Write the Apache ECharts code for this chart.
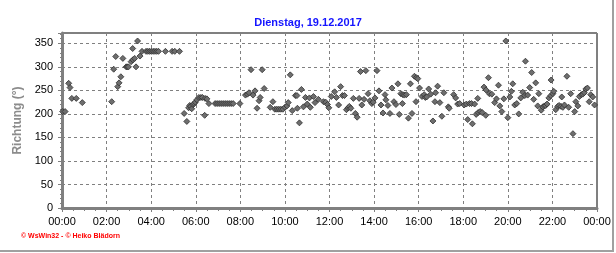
<!DOCTYPE html>
<html><head><meta charset="utf-8">
<script src="https://cdn.jsdelivr.net/npm/echarts@6/dist/echarts.min.js"></script>
<style>html,body{margin:0;padding:0;background:#fff}#c{width:616px;height:253px}</style>
</head><body><div id="c"></div>
<script>
const title = "Dienstag, 19.12.2017";
const yAxisName = "Richtung (°)";
const footer = "© WsWin32 - © Heiko Blädorn";
const xTickLabels = ["00:00","02:00","04:00","06:00","08:00","10:00","12:00","14:00","16:00","18:00","20:00","22:00","00:00"];
const yTicks = [0,50,100,150,200,250,300,350];

const hours = [
0.03,0.14,0.30,0.36,0.44,0.64,0.91,2.23,2.32,2.41,2.50,2.56,2.64,2.73,2.88,2.93,2.98,3.10,3.17,3.18,3.26,3.32,3.39,3.50,
3.59,3.77,3.85,3.93,4.01,4.09,4.17,4.25,4.33,4.64,4.94,5.06,5.27,
5.48,5.60,5.68,5.73,5.78,5.82,5.88,5.93,5.98,6.05,6.14,6.23,6.30,6.40,6.42,6.50,6.59,
6.87,6.96,7.05,7.14,7.23,7.32,7.41,7.50,7.59,7.68,7.98,
8.23,8.32,8.39,8.48,8.57,8.66,8.75,8.84,8.89,8.98,9.07,9.34,9.46,9.55,9.64,9.73,9.82,9.91,10.00,10.09,10.15,
10.24,10.33,10.47,10.54,10.56,10.65,10.74,10.83,10.92,11.00,11.10,11.14,11.28,11.35,11.50,11.73,11.83,11.91,11.97,
12.08,12.23,12.31,12.41,12.50,12.58,12.67,12.76,12.84,12.89,12.96,13.07,13.16,13.24,13.33,13.39,13.45,13.55,13.63,13.73,
13.81,13.90,13.96,14.04,14.13,14.22,14.31,14.40,14.49,14.53,14.62,14.71,14.80,14.89,14.98,15.07,15.13,15.20,15.27,15.29,
15.36,15.45,15.54,15.63,15.70,15.81,15.88,15.90,15.96,16.04,16.15,16.25,16.30,16.36,16.45,16.54,16.64,16.73,16.76,16.85,
16.95,17.04,17.13,17.33,17.37,17.57,17.66,17.75,17.84,18.04,
18.14,18.20,18.28,18.37,18.41,18.51,18.58,18.65,18.67,18.76,18.85,18.93,19.01,19.02,19.13,19.17,19.28,19.41,19.49,19.58,
19.64,19.73,19.82,19.91,20.00,20.09,20.16,20.22,20.31,20.40,20.49,20.58,20.67,20.76,20.79,20.89,20.98,21.07,21.16,21.25,
21.34,21.39,21.50,21.57,21.64,21.70,21.76,21.84,21.93,21.94,22.02,22.06,22.15,22.24,22.30,22.39,22.42,22.47,22.54,22.65,
22.73,22.82,22.92,23.00,23.05,23.14,23.21,23.30,23.36,23.43,23.50,23.57,23.65,23.72,23.81,23.89
];
const direction = [
205,205,265,256,233,233,224,226,295,322,258,266,279,318,300,300,300,311,339,315,318,300,355,323,
333,333,333,333,333,333,333,333,333,333,333,333,333,
201,184,213,218,216,211,220,222,225,230,235,235,235,197,233,232,222,
222,222,222,222,222,222,222,222,222,222,222,
240,242,245,294,240,249,212,228,235,294,254,214,226,210,210,210,210,210,214,217,224,
283,207,239,239,212,181,252,215,235,221,234,214,237,224,231,226,225,220,213,
237,247,235,219,258,239,239,209,213,216,212,233,201,193,233,290,219,231,292,243,
228,222,225,234,292,249,219,202,241,230,218,201,255,226,220,264,199,243,222,241,
240,241,191,264,201,280,226,277,275,255,237,241,235,236,253,242,185,226,245,259,
224,195,245,215,212,241,234,221,222,219,
221,188,222,222,179,221,199,233,203,205,203,257,197,251,277,243,242,224,232,261,
217,205,232,355,192,236,248,264,219,222,200,234,246,239,312,240,256,288,231,266,
217,243,208,215,217,218,221,234,239,272,243,248,209,216,218,216,236,214,219,280,
214,243,158,205,226,217,237,241,242,245,253,255,226,241,236,219
];

const points = hours.map((h, i) => [h, direction[i]]);
const chart = echarts.init(document.getElementById('c'), null, {renderer: 'canvas'});
const font = 'Liberation Sans, Arial, sans-serif';
chart.setOption({
  animation: false,
  backgroundColor: '#fff',
  title: {
    text: title, left: 'center', top: 12,
    textStyle: {color: '#1414ff', fontSize: 11, fontWeight: 'bold', fontFamily: font}
  },
  grid: {left: 62, right: 19, top: 33, bottom: 45, show: true, borderColor: '#000', borderWidth: 1, backgroundColor: '#fff'},
  xAxis: {
    type: 'value', min: 0, max: 24, interval: 2,
    axisLine: {show: true, onZero: false, lineStyle: {color: '#808080', width: 3}},
    axisTick: {show: true, length: 4, lineStyle: {color: '#808080'}},
    minorTick: {show: true, splitNumber: 4, length: 3, lineStyle: {color: '#808080'}},
    axisLabel: {color: '#000', fontSize: 11, fontFamily: font, margin: 8,
      formatter: v => xTickLabels[Math.round(v / 2)]},
    splitLine: {show: true, lineStyle: {color: '#808080', type: [3, 3], width: 1}}
  },
  yAxis: {
    type: 'value', min: 0, max: 372, interval: 50,
    name: yAxisName, nameLocation: 'middle', nameGap: 36,
    nameTextStyle: {color: '#8c8c8c', fontSize: 12, fontWeight: 'bold', fontFamily: font},
    axisLine: {show: true, onZero: false, lineStyle: {color: '#808080', width: 3}},
    axisTick: {show: true, length: 4, lineStyle: {color: '#808080'}},
    minorTick: {show: true, splitNumber: 5, length: 2, lineStyle: {color: '#808080'}},
    axisLabel: {color: '#000', fontSize: 11, fontFamily: font, margin: 9, showMaxLabel: false,
      formatter: v => (yTicks.indexOf(v) >= 0 ? String(v) : '')},
    splitLine: {show: true, lineStyle: {color: '#808080', type: [3, 3], width: 1}}
  },
  series: [{
    type: 'scatter', data: points, symbol: 'diamond', symbolSize: 6,
    itemStyle: {color: '#6e6e6e', borderColor: '#303030', borderWidth: 0.8, opacity: 1}
  }],
  graphic: [
    {type: 'text', left: 21, top: 233, style: {text: footer, fill: '#ff0000', font: 'bold 7px Liberation Sans, sans-serif'}},
    {type: 'line', shape: {x1: 613, y1: 0, x2: 613, y2: 251}, style: {stroke: '#a0a0a0', lineWidth: 2}},
    {type: 'line', shape: {x1: 0, y1: 251, x2: 614, y2: 251}, style: {stroke: '#a0a0a0', lineWidth: 2}}
  ]
});
</script></body></html>
